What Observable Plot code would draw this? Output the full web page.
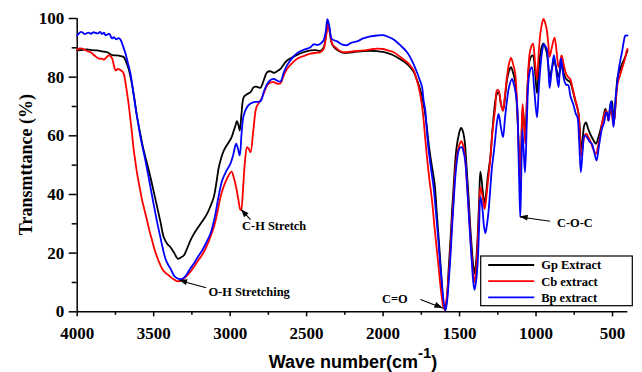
<!DOCTYPE html>
<html><head><meta charset="utf-8">
<script src="https://cdn.jsdelivr.net/npm/d3@7"></script>
<script src="https://cdn.jsdelivr.net/npm/@observablehq/plot@0.6"></script>
<style>
body{margin:0;background:#fff} svg{display:block}
#chart svg text.serif-tick, #chart svg g[aria-label$="tick label"] text, #chart svg g[aria-label$="tick label"] {font-family: 'Liberation Serif', 'Times New Roman', serif !important; font-weight: bold !important;}
</style>
</head><body><div id="chart"></div>
<script>
// [wavenumber cm-1, transmittance %]
const gpSpectrum = [[4000,89.1],[3967,89.3],[3935,89.5],[3900,89.2],[3869,89.1],[3840,88.8],[3804,88.5],[3770,87.5],[3740,87.4],[3717,87.2],[3695,86.8],[3684,85.7],[3665,83],[3651,80],[3630,74],[3608,66.3],[3585,60],[3565,55],[3543,50.5],[3521,45.9],[3499,40.8],[3477,35.7],[3455,30.5],[3434,25.4],[3412,23.2],[3390,22],[3365,20],[3343,18.1],[3323,18.5],[3303,19.2],[3282,21.5],[3260,24.3],[3238,26.5],[3216,28.3],[3183,30.8],[3151,33.4],[3129,36],[3107,39.1],[3090,44],[3074,49.3],[3058,52.5],[3041,55],[3025,56.5],[3009,57.8],[2991,59.5],[2976,61.8],[2965,63.5],[2956,65],[2945,63.5],[2937,61.8],[2925,68],[2911,73.2],[2890,74.2],[2867,74.9],[2846,76.6],[2830,76.8],[2802,76.4],[2780,79],[2758,81.7],[2735,82],[2715,81.5],[2693,82],[2671,82.8],[2650,84.3],[2628,85.7],[2595,86.7],[2562,87.6],[2520,88.5],[2475,89.1],[2440,89.2],[2410,89],[2390,90],[2375,93.5],[2362,98.7],[2350,96],[2335,91.5],[2312,89.7],[2285,88.8],[2258,88.3],[2200,88.5],[2127,88.9],[2080,89],[2040,88.9],[2000,88.6],[1960,88],[1931,87.4],[1890,86.2],[1843,84.5],[1820,83.2],[1800,81.7],[1778,79],[1756,75.5],[1740,72],[1728,68.6],[1714,63],[1702,57.3],[1685,51],[1663,43.6],[1650,34.5],[1637,25.4],[1620,13],[1604,2],[1593,0.7],[1582,5],[1572,14.1],[1560,24],[1549,34.5],[1538,43.5],[1528,51.6],[1517,57],[1506,60.1],[1497,62],[1489,62.7],[1478,61.5],[1467,58.4],[1455,50],[1441,39.1],[1430,29],[1419,20.9],[1410,15.5],[1402,13],[1392,17],[1382,25.4],[1372,38],[1364,47.8],[1356,45],[1349,41.4],[1336,36.8],[1326,40.5],[1316,45.9],[1299,52.7],[1285,62],[1266,72],[1256,74.3],[1245,74.9],[1230,71],[1216,68.6],[1203,73],[1190,78.9],[1177,82],[1164,83.4],[1150,81.5],[1136,78.3],[1125,70],[1114,57.3],[1108,48],[1103,43],[1097,52],[1088,69.8],[1079,65],[1070,59.5],[1058,74],[1042,85.7],[1030,87.2],[1020,87.4],[1008,83],[994,74.5],[983,82],[972,88],[960,90.8],[951,91.5],[940,90.2],[929,88],[920,84],[911,80],[896,83],[881,85.7],[867,83],[853,80],[842,82.5],[831,84.5],[817,81],[803,79.4],[790,78.8],[777,78.3],[760,75.5],[744,72],[732,70],[722,67.5],[713,62],[705,55],[695,59],[685,63.5],[674,64.6],[660,62.5],[646,60.7],[630,59],[615,57.6],[607,57.3],[595,59],[580,61.8],[563,65.5],[547,69.2],[535,67.5],[526,65.2],[515,70],[504,71.8],[497,68.5],[489,65.2],[478,72],[467,80],[452,82.3],[438,84.5],[420,86.5],[406,88.5],[402,89]];

const cbSpectrum = [[4000,89.3],[3985,89.8],[3967,89.7],[3940,89],[3912,88.5],[3885,87.3],[3858,86.3],[3840,86.3],[3825,86],[3808,86.8],[3793,87.4],[3780,87],[3771,86.3],[3760,84],[3749,82.3],[3733,82.8],[3717,82.4],[3705,82],[3695,81.1],[3684,78],[3673,74.3],[3662,70],[3651,65.2],[3640,60],[3630,55],[3619,51],[3608,47],[3592,42.5],[3575,37.9],[3559,34.5],[3543,31.1],[3527,27.5],[3510,24.3],[3494,21.2],[3477,18.6],[3461,16.5],[3445,14.7],[3423,13.3],[3401,12.4],[3372,11.2],[3343,10.4],[3318,10.8],[3292,11.8],[3265,13.3],[3238,15.2],[3205,17.8],[3173,20.3],[3140,24],[3107,28.8],[3085,33.5],[3063,39.1],[3047,42],[3031,44.2],[3010,46.5],[2991,47.8],[2975,45.5],[2961,42.5],[2947,38.5],[2933,34.8],[2928,34.8],[2918,40],[2905,50],[2889,56.1],[2878,55.5],[2867,54.4],[2848,62],[2828,69.8],[2802,72],[2780,74.5],[2758,77.2],[2736,78.2],[2715,78.3],[2693,77.8],[2671,77.9],[2650,80.5],[2628,82.8],[2595,84.8],[2562,86.3],[2520,87.2],[2475,88],[2440,88.3],[2410,88.5],[2390,89.5],[2375,93],[2360,98],[2348,95],[2330,91],[2312,90.2],[2285,89],[2258,88.5],[2200,88.8],[2127,89.1],[2080,89.5],[2040,89.7],[2000,89.6],[1960,89],[1931,88.5],[1890,87],[1843,85.1],[1820,83.8],[1800,82.3],[1785,80],[1767,76.6],[1752,72.5],[1739,67.5],[1726,60],[1713,52.7],[1697,45],[1680,37.9],[1664,29],[1648,20.9],[1633,13],[1619,6.1],[1607,2],[1597,0.7],[1585,4.5],[1572,11.8],[1560,21],[1549,31.1],[1538,40],[1528,48.2],[1517,53],[1506,56.1],[1497,57.6],[1489,58.2],[1478,57],[1467,53.9],[1455,46],[1441,35.7],[1430,26],[1419,17.5],[1410,12.5],[1402,10.1],[1392,14],[1382,23.2],[1372,34],[1364,42.5],[1356,41],[1349,39],[1336,35.1],[1326,38.5],[1316,43.6],[1299,52],[1288,59.5],[1276,65.5],[1266,69.8],[1256,75.5],[1245,75.5],[1230,71],[1216,68.6],[1203,74],[1190,80],[1177,84.5],[1164,86.6],[1150,84.5],[1136,81.1],[1125,72],[1114,57.3],[1108,50],[1103,44],[1097,55],[1088,70.9],[1079,64],[1070,57.3],[1058,74],[1042,88],[1030,90.6],[1020,91.4],[1008,86],[994,79.2],[983,88],[972,94.8],[960,98.5],[951,99.9],[940,98.5],[929,95.9],[920,91.5],[911,87],[895,90.5],[879,93.5],[866,89],[853,83.4],[842,85.5],[833,87.4],[818,84],[803,81.1],[790,80],[777,79.4],[760,76],[744,72.6],[732,70],[722,67.5],[713,60],[705,53],[695,56],[683,60],[670,60.7],[658,59.5],[646,58.4],[630,56],[615,54.2],[607,53.9],[595,56.5],[580,60],[569,64.1],[555,67],[541,68.6],[533,67],[526,65.2],[518,67.5],[510,69.2],[501,66],[493,63.5],[480,71],[467,77.7],[452,80.5],[438,82.8],[420,86],[406,89.1],[402,89.6]];

const bpSpectrum = [[4000,94.2],[3990,94.8],[3978,95.4],[3967,95.3],[3955,94.8],[3940,94.9],[3925,95.2],[3910,94.8],[3895,95.3],[3880,95.1],[3865,94.9],[3850,95.4],[3838,94.7],[3825,95.2],[3815,94.3],[3804,94.5],[3790,94.8],[3780,93.8],[3771,93.2],[3760,93.6],[3745,92.9],[3730,93.3],[3717,92.8],[3700,90.5],[3684,88],[3667,84.5],[3651,81],[3635,75.5],[3619,69.8],[3602,64.5],[3586,59.5],[3570,55.5],[3554,51.6],[3537,47],[3521,42.5],[3505,38],[3488,33.4],[3472,29.2],[3456,25.4],[3440,21.5],[3423,18.1],[3407,16.2],[3390,14.7],[3374,13],[3358,11.8],[3336,11.2],[3314,11.2],[3298,11.8],[3281,13],[3260,14.8],[3238,16.4],[3210,18.8],[3183,20.9],[3155,23.7],[3129,26.6],[3113,29.5],[3096,33.4],[3075,39.5],[3052,44.8],[3025,48],[2998,50.5],[2980,53.5],[2961,57.3],[2948,55.5],[2937,53.3],[2925,61],[2911,67],[2880,70.5],[2846,71.5],[2802,71.8],[2780,75],[2758,77.7],[2736,79],[2715,79.4],[2693,78.8],[2671,78.5],[2650,81.5],[2628,84],[2595,86.5],[2562,88.2],[2520,89.3],[2475,90.2],[2454,91.2],[2430,91],[2410,91.4],[2390,92.5],[2375,95.5],[2364,99.8],[2350,97],[2335,93],[2301,92.2],[2270,91.2],[2236,90.9],[2210,91.7],[2170,92.2],[2130,93.2],[2083,93.9],[2040,94.2],[2000,94.3],[1965,93.7],[1931,92.8],[1890,91],[1843,88.5],[1810,85.5],[1778,81.6],[1760,79],[1745,76.6],[1735,72],[1724,68.6],[1713,61],[1702,55],[1686,48.5],[1670,42.5],[1653,33],[1637,23.2],[1626,15.5],[1615,9.5],[1604,3.5],[1593,0.4],[1582,3.5],[1572,9.5],[1560,18.5],[1549,28.8],[1538,38],[1528,45.9],[1517,51.5],[1506,55],[1495,56],[1484,56.1],[1474,54.5],[1463,51.6],[1452,44],[1441,34.5],[1430,25],[1419,16.4],[1410,10],[1402,7.5],[1392,10.5],[1382,16.4],[1372,29],[1364,39.1],[1356,37.5],[1349,34.5],[1340,29],[1331,26.8],[1320,30],[1310,34.5],[1299,42],[1288,49.3],[1276,54.5],[1266,59.5],[1256,64.5],[1245,67.5],[1230,63],[1216,59.5],[1203,66],[1190,72],[1175,77],[1157,79.4],[1145,77.5],[1136,75.5],[1124,70.9],[1114,52.7],[1108,40],[1103,32.3],[1097,45],[1090,62.2],[1081,55],[1072,47.5],[1060,65],[1049,79],[1038,82.5],[1027,83.4],[1012,76],[994,66.3],[983,75],[972,83],[958,89.5],[948,91.2],[938,90.5],[929,89.5],[920,84],[911,76.3],[896,83],[883,87.5],[870,83],[853,76.6],[845,82],[837,86.5],[820,80],[805,77.5],[790,77.3],[775,73.5],[755,70.5],[740,67.5],[729,66.3],[718,58],[707,47.6],[695,55],[683,60.1],[667,59.5],[650,58],[635,57.3],[620,54.5],[604,51.6],[590,56],[569,62.5],[555,64.5],[541,68],[533,67.5],[526,65.2],[518,69],[510,71.7],[501,68],[493,63],[480,73],[467,79],[460,82.3],[448,86],[438,88.5],[425,92.5],[416,94.2],[402,94.2]];

const seriesNames = ["Gp Extract", "Cb extract", "Bp extract"];
const seriesColors = ["#000000", "#ff0000", "#0000ff"];
const seriesData = [gpSpectrum, cbSpectrum, bpSpectrum];

const xMajorTicks = [4000, 3500, 3000, 2500, 2000, 1500, 1000, 500];
const xMinorTicks = [3750, 3250, 2750, 2250, 1750, 1250, 750];
const yMajorTicks = [0, 20, 40, 60, 80, 100];
const yMinorTicks = [10, 30, 50, 70, 90];

// annotation labels (data coords of text start) and arrows (data coords)
const annotations = [
  {label: "C-H Stretch", w: 2922, t: 29.2},
  {label: "O-H Stretching", w: 3142, t: 6.9},
  {label: "C=O", w: 2007, t: 4.4},
  {label: "C-O-C", w: 863, t: 30.2}
];
const arrows = [
  {w1: 2867, t1: 31.4, w2: 2926, t2: 34.8},
  {w1: 3157, t1: 8.2, w2: 3331, t2: 10.7},
  {w1: 1756, t1: 4.2, w2: 1608, t2: 1.2},
  {w1: 907, t1: 30.9, w2: 1104, t2: 32.3}
];

const rows = seriesData.flatMap((s, i) => s.map(([w, t]) => ({w, t, series: seriesNames[i]})));

const W = 642, H = 372;
const mL = 76.7, mR = 14.7, mT = 18, mB = 60.7;
const serif = "'Liberation Serif', 'Times New Roman', serif";

const plot = Plot.plot({
  width: W, height: H,
  marginLeft: mL, marginRight: mR, marginTop: mT, marginBottom: mB,
  style: {fontFamily: serif, fontWeight: "bold", fontSize: "17px", background: "#fff", color: "#000", overflow: "visible"},
  x: {domain: [4000, 400], axis: null},
  y: {domain: [0, 100], axis: null},
  color: {domain: seriesNames, range: seriesColors},
  marks: [
    Plot.axisX(xMajorTicks, {anchor: "bottom", tickSize: 5, tickPadding: 10, strokeWidth: 1.5, tickFormat: d => String(d), label: null, fontSize: 17, fontWeight: "bold", fontFamily: serif}),
    Plot.axisX(xMinorTicks, {anchor: "bottom", tickSize: 3.5, strokeWidth: 1.5, text: null, label: null}),
    Plot.axisY(yMajorTicks, {anchor: "left", tickSize: 8, tickPadding: 5, strokeWidth: 1.5, tickFormat: d => String(d), label: null, fontSize: 17, fontWeight: "bold", fontFamily: serif}),
    Plot.axisY(yMinorTicks, {anchor: "left", tickSize: 5, strokeWidth: 1.5, text: null, label: null}),
    Plot.ruleY([0], {strokeWidth: 1.5}),
    Plot.ruleX([4000], {strokeWidth: 1.5}),
    Plot.line(rows, {x: "w", y: "t", z: "series", stroke: "series", strokeWidth: 1.8, curve: "catmull-rom"}),
    Plot.link(arrows, {x1: "w1", y1: "t1", x2: "w2", y2: "t2", stroke: "#000", strokeWidth: 1.1}),
    Plot.text(annotations, {x: "w", y: "t", text: "label", textAnchor: "start", fontSize: 12.4, fontWeight: "bold", fontFamily: serif, fill: "#000"})
  ]
});

const svg = d3.select(plot);
const sx = plot.scale("x"), sy = plot.scale("y");

// force serif bold on axis tick labels
svg.selectAll("g[aria-label$='tick label'] text").each(function() {
  this.setAttribute("font-family", "Liberation Serif");
  this.style.fontFamily = "'Liberation Serif', serif";
  this.style.fontWeight = "bold";
});

// filled arrow heads
arrows.forEach(a => {
  const x1 = sx.apply(a.w1), y1 = sy.apply(a.t1), x2 = sx.apply(a.w2), y2 = sy.apply(a.t2);
  const ang = Math.atan2(y2 - y1, x2 - x1), L = 8, Wd = 3;
  const bx = x2 - L * Math.cos(ang), by = y2 - L * Math.sin(ang);
  const px = -Math.sin(ang) * Wd, py = Math.cos(ang) * Wd;
  svg.append("path")
    .attr("d", `M${x2},${y2}L${bx + px},${by + py}L${bx - px},${by - py}Z`)
    .attr("fill", "#000");
});

// Legend box
const lx = 480.7, ly = 256, lw = 151.6, lh = 49.7;
const lg = svg.append("g").attr("text-anchor", "start");
lg.append("rect").attr("x", lx).attr("y", ly).attr("width", lw).attr("height", lh)
  .attr("fill", "#fff").attr("stroke", "#000").attr("stroke-width", 1.2);
seriesNames.forEach((name, i) => {
  const yy = ly + 9 + i * 16.2;
  lg.append("line").attr("x1", lx + 7.5).attr("x2", lx + 53.5).attr("y1", yy).attr("y2", yy)
    .attr("stroke", seriesColors[i]).attr("stroke-width", 1.8);
  lg.append("text").attr("x", lx + 60.5).attr("y", yy).attr("dy", "0.35em")
    .attr("text-anchor", "start")
    .attr("font-family", serif).attr("font-weight", "bold").attr("font-size", 12.5)
    .attr("fill", "#000").text(name);
});

// Axis titles
svg.append("text")
  .attr("transform", `translate(31.5,${(mT + H - mB) / 2}) rotate(-90)`)
  .attr("text-anchor", "middle").attr("font-family", serif).attr("font-weight", "bold")
  .attr("font-size", 18).attr("fill", "#000").text("Transmttance (%)");

const xLab = svg.append("text")
  .attr("x", (mL + W - mR) / 2 + 1).attr("y", 368)
  .attr("text-anchor", "middle")
  .style("font-family", "'Liberation Sans', Arial, sans-serif")
  .attr("font-weight", "bold").attr("font-size", 18).attr("fill", "#000");
xLab.append("tspan").text("Wave number(cm");
xLab.append("tspan").attr("dy", -10).attr("font-size", 15).text("-1");
xLab.append("tspan").attr("dy", 10).text(")");

document.getElementById("chart").appendChild(plot);
</script>
</body></html>
